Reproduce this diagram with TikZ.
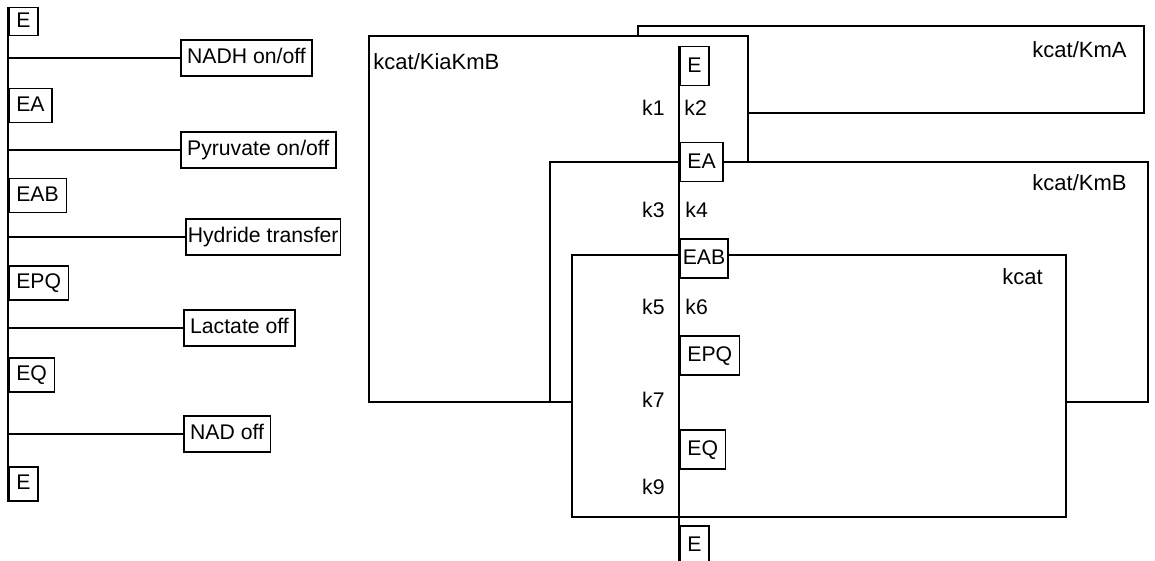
\documentclass[tikz,border=0pt]{standalone}
\usepackage{fontspec}
\setmainfont{Liberation Sans}
\begin{document}
\begin{tikzpicture}[
        x=0.5pt, y=-0.5pt,
        % Enzyme forms, left chain
        spec/.style={
            rectangle, draw=black, fill=white, line width=0.75pt,
            anchor=north west, inner xsep=3.8pt, inner ysep=0pt,
            minimum height=17pt, text height=0.72em, text depth=0.1em,
            font=\fontsize{10.6}{12}\selectfont
        },
        % Enzyme forms, right chain
        bigspec/.style={spec, minimum height=19.5pt},
        % Binding / release steps
        event/.style={
            rectangle, draw=black, fill=white, line width=0.75pt,
            anchor=west, inner xsep=3.2pt, inner ysep=0pt,
            minimum height=18pt, text height=0.72em, text depth=0.2em,
            font=\fontsize{10.6}{12}\selectfont
        },
        % Rate constants
        rate/.style={
            inner sep=0pt, text height=0.72em, text depth=0pt,
            font=\fontsize{10.6}{12}\selectfont
        },
        % Region titles
        title/.style={
            inner sep=0pt, text height=0.72em, text depth=0pt,
            font=\fontsize{11}{13}\selectfont
        },
        % Regions
        region/.style={draw=black, fill=white, line width=0.65pt},
        % Lines
        link/.style={draw=black, line width=0.75pt}
    ]
        \useasboundingbox (0,0) rectangle (1155,561);

        % Left chain
        \node [spec, minimum height=14pt] (l0) at (8,7) {E};
        \node [spec] (l1) at (8,88) {EA};
        \node [spec] (l2) at (8,178) {EAB};
        \node [spec] (l3) at (8,265) {EPQ};
        \node [spec] (l4) at (8,357) {EQ};
        \node [spec] (l5) at (8,466) {E};

        % Steps
        \node [event] (nadh) at (180,58) {NADH on/off};
        \node [event] (pyr) at (180,150) {Pyruvate on/off};
        \node [event, inner xsep=1pt] (hyd) at (185,237) {Hydride transfer};
        \node [event] (lac) at (183,328) {Lactate off};
        \node [event] (nad) at (183,434) {NAD off};

        % Left lines
        \draw [link] (l0.north west) -- (l5.south west);
        \draw [link] (l0.west |- nadh.west) -- (nadh.west);
        \draw [link] (l0.west |- pyr.west) -- (pyr.west);
        \draw [link] (l0.west |- hyd.west) -- (hyd.west);
        \draw [link] (l0.west |- lac.west) -- (lac.west);
        \draw [link] (l0.west |- nad.west) -- (nad.west);

        % Regions, back to front
        \draw [region] (638,26) rectangle (1144,113);
        \draw [region] (369,36) rectangle (748,402);
        \draw [region] (550,162) rectangle (1148,402);
        \draw [region] (572,255) rectangle (1066,517);

        % Region titles
        \node [title, anchor=east] (tKmA) at (1127,50) {kcat/KmA};
        \node [title, anchor=west] (tKiaKmB) at (373,62) {kcat/KiaKmB};
        \node [title, anchor=east] (tKmB) at (1127,183) {kcat/KmB};
        \node [title, anchor=east] (tkcat) at (1043,277) {kcat};

        % Right chain
        \node [bigspec] (r0) at (679,46) {E};
        \node [bigspec] (r1) at (679,142) {EA};
        \node [bigspec, inner xsep=1.5pt] (r2) at (679,238) {EAB};
        \node [bigspec] (r3) at (679,335) {EPQ};
        \node [bigspec] (r4) at (679,429) {EQ};
        \node [bigspec] (r5) at (679,525) {E};
        \draw [link] (r0.north west) -- (r5.south west);

        % Rate constants
        \node [rate, anchor=east] (k1) at (665,108) {k1};
        \node [rate, anchor=west] (k2) at (684,108) {k2};
        \node [rate, anchor=east] (k3) at (665,210) {k3};
        \node [rate, anchor=west] (k4) at (685,210) {k4};
        \node [rate, anchor=east] (k5) at (665,307) {k5};
        \node [rate, anchor=west] (k6) at (685,307) {k6};
        \node [rate, anchor=east] (k7) at (665,400) {k7};
        \node [rate, anchor=east] (k9) at (665,487) {k9};

    \end{tikzpicture}
\end{document}
